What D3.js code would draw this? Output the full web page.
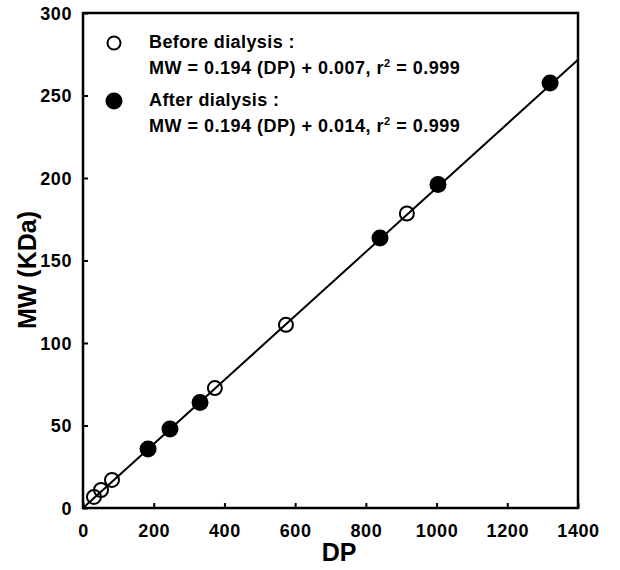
<!DOCTYPE html>
<html>
<head>
<meta charset="utf-8">
<script src="https://cdn.jsdelivr.net/npm/d3@7"></script>
<style>
  body { margin: 0; background: #fff; }
  text { font-family: "Liberation Sans", Arial, sans-serif; font-weight: bold; fill: #000; }
</style>
</head>
<body>
<script>
"use strict";
(function(){
    // values
    const beforeDP = [31, 51, 82, 373, 574, 916]
    const beforeMW = [6.7, 10.9, 17, 72.7, 111, 178.5]
    const afterDP = [184, 246, 331, 840, 1004, 1321]
    const afterMW = [35.8, 47.9, 64, 163.6, 196, 257.6]
    // fitted line, from the legend
    const fitSlope = 0.194
    const fitIntercept = 0.007
    const fitRange = [0, 1400]
    const xTicks = [0, 200, 400, 600, 800, 1000, 1200, 1400]
    const yTicks = [0, 50, 100, 150, 200, 250, 300]
    const legendTitles = ["Before dialysis :", "After dialysis :"]
    const legendEq = ["MW = 0.194 (DP) + 0.007, r", "MW = 0.194 (DP) + 0.014, r"]
    const legendR2 = ["0.999", "0.999"]

    const measurements = {
        width: 620,
        height: 570,
        left: 83,
        right: 578,
        top: 13,
        bottom: 508
    }

    let svgContainer = d3.select('body').append('svg')
        .attr('width', measurements.width)
        .attr('height', measurements.height)

    let scaleX = d3.scaleLinear()
        .domain([0, 1400])
        .range([measurements.left, measurements.right])
    let scaleY = d3.scaleLinear()
        .domain([0, 300])
        .range([measurements.bottom, measurements.top])

    // axes, ticks pointing inward
    let xAxis = d3.axisBottom(scaleX)
        .tickValues(xTicks)
        .tickFormat(d3.format('d'))
        .tickSizeInner(-5)
        .tickSizeOuter(0)
        .tickPadding(14)
    let yAxis = d3.axisLeft(scaleY)
        .tickValues(yTicks)
        .tickFormat(d3.format('d'))
        .tickSizeInner(-5)
        .tickSizeOuter(0)
        .tickPadding(11)

    let gx = svgContainer.append('g')
        .attr('transform', `translate(0, ${measurements.bottom})`)
        .call(xAxis)
    let gy = svgContainer.append('g')
        .attr('transform', `translate(${measurements.left}, 0)`)
        .call(yAxis)

    for (const g of [gx, gy]) {
        g.select('.domain').remove()
        g.selectAll('.tick line').attr('stroke', '#000').attr('stroke-width', 2)
        g.selectAll('.tick text')
            .style('font-size', '18px')
            .style('letter-spacing', '0.6px')
            .style('font-family', '"Liberation Sans", Arial, sans-serif')
            .style('font-weight', 'bold')
    }
    gx.selectAll('.tick text').attr('dy', '0.85em')
    gy.selectAll('.tick text').attr('dy', '0.36em')

    // frame
    svgContainer.append('rect')
        .attr('x', measurements.left)
        .attr('y', measurements.top)
        .attr('width', measurements.right - measurements.left)
        .attr('height', measurements.bottom - measurements.top)
        .attr('fill', 'none')
        .attr('stroke', '#000')
        .attr('stroke-width', 2.5)

    // axis titles
    svgContainer.append('text')
        .attr('x', 339)
        .attr('y', 561)
        .attr('text-anchor', 'middle')
        .style('font-size', '25px')
        .text('DP')

    svgContainer.append('text')
        .attr('transform', 'translate(36, 270) rotate(-90)')
        .attr('text-anchor', 'middle')
        .style('font-size', '25px')
        .text('MW (KDa)')

    // regression line
    let line = d3.line()
        .x(d => scaleX(d))
        .y(d => scaleY(fitSlope * d + fitIntercept))
    svgContainer.append('path')
        .datum(fitRange)
        .attr('d', line)
        .attr('fill', 'none')
        .attr('stroke', '#000')
        .attr('stroke-width', 2)

    // points
    const beforeData = beforeDP.map((d, i) => ({ dp: d, mw: beforeMW[i] }))
    const afterData = afterDP.map((d, i) => ({ dp: d, mw: afterMW[i] }))

    svgContainer.selectAll('.before')
        .data(beforeData)
        .enter()
        .append('circle')
        .attr('class', 'before')
        .attr('cx', d => scaleX(d.dp))
        .attr('cy', d => scaleY(d.mw))
        .attr('r', 7)
        .attr('fill', 'none')
        .attr('stroke', '#000')
        .attr('stroke-width', 2)

    svgContainer.selectAll('.after')
        .data(afterData)
        .enter()
        .append('circle')
        .attr('class', 'after')
        .attr('cx', d => scaleX(d.dp))
        .attr('cy', d => scaleY(d.mw))
        .attr('r', 8.5)
        .attr('fill', '#000')

    // legend
    let legend = svgContainer.selectAll('.legend')
        .data(legendTitles)
        .enter()
        .append('g')
        .attr('class', 'legend')
        .attr('transform', (d, i) => `translate(114, ${43 + i * 58})`)

    legend.append('circle')
        .attr('r', (d, i) => i === 0 ? 6.5 : 8.5)
        .attr('fill', (d, i) => i === 0 ? 'none' : '#000')
        .attr('stroke', '#000')
        .attr('stroke-width', (d, i) => i === 0 ? 2 : 0)

    legend.append('text')
        .attr('x', 35)
        .attr('y', 5)
        .style('font-size', '18px')
        .style('letter-spacing', '0.4px')
        .text(d => d)

    let eq = legend.append('text')
        .attr('x', 35)
        .attr('y', 31)
        .style('font-size', '18px')
        .style('letter-spacing', '0.5px')
    eq.append('tspan').text((d, i) => legendEq[i])
    eq.append('tspan')
        .attr('dy', -7)
        .style('font-size', '11px')
        .text('2')
    eq.append('tspan')
        .attr('dy', 7)
        .text((d, i) => ' = ' + legendR2[i])
})()
</script>
</body>
</html>
